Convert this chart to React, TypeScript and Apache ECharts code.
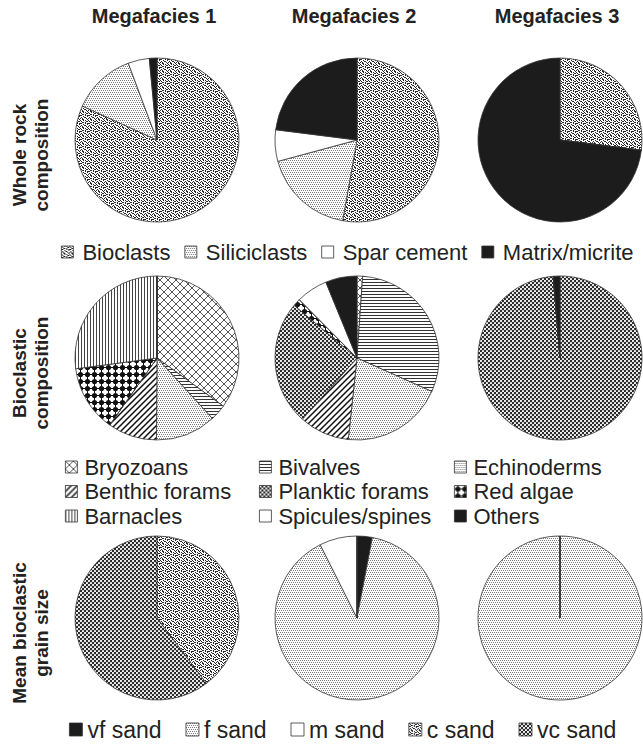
import React, { useEffect, useRef } from 'react';
import * as echarts from 'echarts';

// ---------- data ----------
const megafacies = ['Megafacies 1', 'Megafacies 2', 'Megafacies 3'];
const rowLabels = ['Whole rock\ncomposition', 'Bioclastic\ncomposition', 'Mean bioclastic\ngrain size'];

const rockCategories = ['Bioclasts', 'Siliciclasts', 'Spar cement', 'Matrix/micrite'];
const rockMF1 = [81.8, 12.5, 4.2, 1.5];
const rockMF2 = [52.8, 18.0, 6.2, 23.0];
const rockMF3 = [27.0, 0, 0, 73.0];

const bioCategories = ['Bryozoans', 'Bivalves', 'Echinoderms', 'Benthic forams', 'Planktic forams', 'Red algae', 'Barnacles', 'Spicules/spines', 'Others'];
const bioMF1 = [35.0, 3.2, 11.9, 9.7, 0, 13.1, 27.1, 0, 0];
const bioMF2 = [1.1, 30.6, 20.0, 9.9, 24.5, 1.5, 0, 6.2, 6.2];
const bioMF3 = [0, 0, 0, 0, 98.7, 0, 0, 0, 1.3];

const grainCategories = ['vf sand', 'f sand', 'm sand', 'c sand', 'vc sand'];
const grainMF1 = [0, 0, 0, 39.7, 60.3];
const grainMF2 = [3.0, 89.6, 7.4, 0, 0];
const grainMF3 = [0, 100, 0, 0, 0];

// ---------- fill patterns ----------
type Kind = 'stipple' | 'fine' | 'white' | 'black' | 'lattice' | 'hlines' | 'vlines' | 'diag' | 'checker' | 'redalgae';

const patternKind: Record<string, Kind> = {
  'Bioclasts': 'stipple', 'Siliciclasts': 'fine', 'Spar cement': 'white', 'Matrix/micrite': 'black',
  'Bryozoans': 'lattice', 'Bivalves': 'hlines', 'Echinoderms': 'fine', 'Benthic forams': 'diag',
  'Planktic forams': 'checker', 'Red algae': 'redalgae', 'Barnacles': 'vlines', 'Spicules/spines': 'white', 'Others': 'black',
  'vf sand': 'black', 'f sand': 'fine', 'm sand': 'white', 'c sand': 'stipple', 'vc sand': 'checker',
};

const STIPPLE = [
  'X..X.X..',
  '.X....XX',
  '..XX.X..',
  'XX...X.X',
  '...X...X',
  '.X..XX..',
  'X.X...X.',
  '..XX...X',
];
const FINE = ['X.X.', '....', '.X.X', '....'];

function bitmap(ctx: CanvasRenderingContext2D, rows: string[], color: string) {
  ctx.fillStyle = color;
  rows.forEach((r, y) => r.split('').forEach((c, x) => { if (c === 'X') ctx.fillRect(x, y, 1, 1); }));
}

function makePattern(kind: Kind): any {
  if (kind === 'white') return '#ffffff';
  if (kind === 'black') return '#1c1c1c';
  const size: Record<string, [number, number]> = {
    stipple: [8, 8], fine: [4, 4], lattice: [8, 8], hlines: [4, 3], vlines: [3, 4], diag: [6, 6], checker: [4, 4], redalgae: [7, 7],
  };
  const [w, h] = size[kind];
  const c = document.createElement('canvas');
  c.width = w; c.height = h;
  const ctx = c.getContext('2d')!;
  ctx.fillStyle = '#ffffff';
  ctx.fillRect(0, 0, w, h);
  if (kind === 'stipple') bitmap(ctx, STIPPLE, '#262626');
  else if (kind === 'fine') bitmap(ctx, FINE, '#7a7a7a');
  else if (kind === 'lattice') {
    ctx.strokeStyle = '#555'; ctx.lineWidth = 1;
    ctx.beginPath();
    ctx.moveTo(0, 0); ctx.lineTo(8, 8);
    ctx.moveTo(8, 0); ctx.lineTo(0, 8);
    ctx.stroke();
  } else if (kind === 'hlines') {
    ctx.fillStyle = '#333'; ctx.fillRect(0, 0, w, 1);
  } else if (kind === 'vlines') {
    ctx.fillStyle = '#444'; ctx.fillRect(0, 0, 1, h);
  } else if (kind === 'diag') {
    ctx.strokeStyle = '#111'; ctx.lineWidth = 1.5;
    ctx.beginPath();
    ctx.moveTo(-1, 7); ctx.lineTo(7, -1);
    ctx.moveTo(-1, 1); ctx.lineTo(1, -1);
    ctx.moveTo(5, 7); ctx.lineTo(7, 5);
    ctx.stroke();
  } else if (kind === 'checker') {
    ctx.fillStyle = '#2a2a2a'; ctx.fillRect(0, 0, w, h);
    ctx.fillStyle = '#ffffff';
    ctx.beginPath(); ctx.arc(1, 1, 1.1, 0, Math.PI * 2); ctx.fill();
    ctx.beginPath(); ctx.arc(3, 3, 1.1, 0, Math.PI * 2); ctx.fill();
  } else if (kind === 'redalgae') {
    ctx.fillStyle = '#111';
    ctx.fillRect(0, 3, 7, 1); ctx.fillRect(3, 0, 1, 7);
    ctx.beginPath(); ctx.arc(3.5, 3.5, 2.6, 0, Math.PI * 2); ctx.fill();
  }
  return { image: c.toDataURL(), repeat: 'repeat', imageWidth: w, imageHeight: h };
}

// ---------- layout ----------
const FONT = "'Liberation Sans', Arial, Helvetica, sans-serif";
const colX = [157, 357, 560];
const rowY = [140, 358, 618];
const R = 82;

export default function App() {
  const ref = useRef<HTMLDivElement>(null);
  useEffect(() => {
    if (!ref.current) return;
    const chart = echarts.init(ref.current, undefined, { renderer: 'svg' });
    const cache: Record<string, any> = {};
    const fillFor = (name: string) => {
      const k = patternKind[name];
      if (!(k in cache)) cache[k] = makePattern(k);
      return cache[k];
    };

    const rows: [string[], number[][]][] = [
      [rockCategories, [rockMF1, rockMF2, rockMF3]],
      [bioCategories, [bioMF1, bioMF2, bioMF3]],
      [grainCategories, [grainMF1, grainMF2, grainMF3]],
    ];

    const series: any[] = [];
    rows.forEach(([cats, vals], r) => {
      vals.forEach((v, c) => {
        series.push({
          type: 'pie',
          name: `${rowLabels[r]} ${megafacies[c]}`,
          center: [colX[c], rowY[r]],
          radius: R,
          startAngle: 90,
          clockwise: true,
          avoidLabelOverlap: false,
          label: { show: false },
          labelLine: { show: false },
          emphasis: { disabled: true },
          itemStyle: { borderColor: '#333', borderWidth: 0.8 },
          data: cats.map((name, i) => ({ name, value: v[i], itemStyle: { color: fillFor(name) } })),
        });
      });
    });

    const legendText = (size: number, pad: number) => ({ fontSize: size, fontFamily: FONT, color: '#222', padding: [0, 0, 0, pad] });
    const legendBase = {
      selectedMode: false, padding: 0, icon: 'rect',
      itemStyle: { borderColor: '#333', borderWidth: 0.8 },
    };

    chart.setOption({
      animation: false,
      backgroundColor: '#ffffff',
      title: megafacies.map((t, i) => ({
        text: t, left: colX[i] - 3, top: 6, textAlign: 'center', padding: 0,
        textStyle: { fontSize: 20, fontWeight: 'bold', fontFamily: FONT, color: '#222' },
      })),
      legend: [
        { ...legendBase, data: rockCategories, left: 61, top: 241, itemWidth: 12, itemHeight: 12, itemGap: 14, textStyle: legendText(22, 4) },
        { ...legendBase, orient: 'vertical', data: [bioCategories[0], bioCategories[3], bioCategories[6]], left: 65, top: 456, itemWidth: 12, itemHeight: 12, itemGap: 2.5, textStyle: legendText(22, 2) },
        { ...legendBase, orient: 'vertical', data: [bioCategories[1], bioCategories[4], bioCategories[7]], left: 259, top: 456, itemWidth: 12, itemHeight: 12, itemGap: 2.5, textStyle: legendText(22, 2) },
        { ...legendBase, orient: 'vertical', data: [bioCategories[2], bioCategories[5], bioCategories[8]], left: 454, top: 456, itemWidth: 12, itemHeight: 12, itemGap: 2.5, textStyle: legendText(22, 2) },
        { ...legendBase, data: grainCategories, left: 69, top: 718, width: 572, itemWidth: 13, itemHeight: 13, itemGap: 24, textStyle: legendText(23, 0) },
      ],
      graphic: rowLabels.map((t, r) => ({
        type: 'text',
        x: 30,
        y: rowY[r] + 15,
        rotation: Math.PI / 2,
        style: {
          text: t, fontSize: 19, fontWeight: 'bold', fontFamily: FONT, fill: '#222',
          align: 'center', verticalAlign: 'middle', lineHeight: 22,
        },
      })),
      series,
    });
    return () => chart.dispose();
  }, []);
  return <div ref={ref} style={{ position: 'absolute', left: 0, top: 0, width: 643, height: 744 }} />;
}
